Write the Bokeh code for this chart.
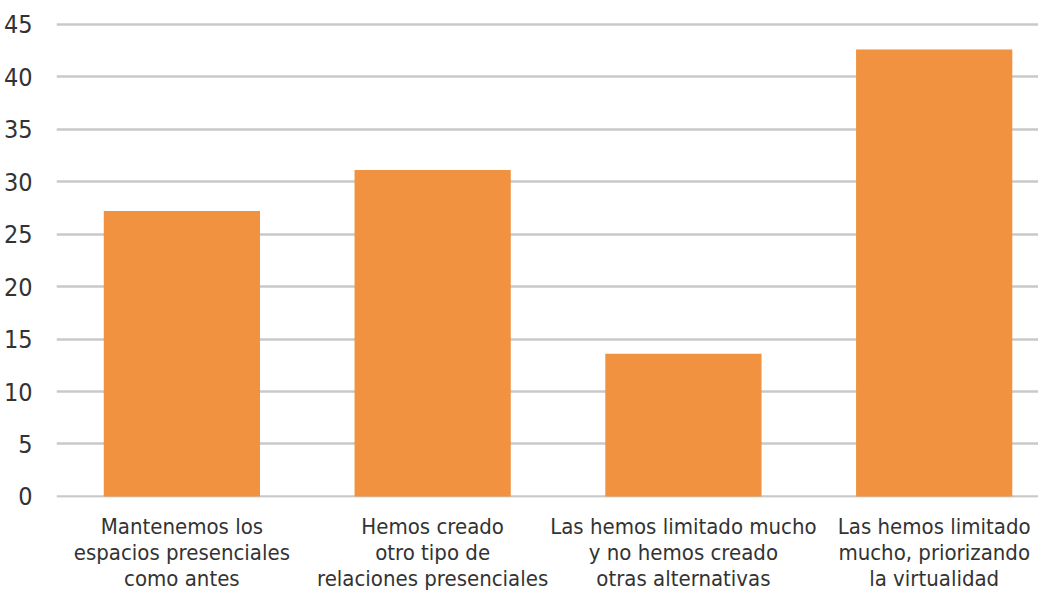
from bokeh.plotting import figure
from bokeh.models import FixedTicker, Range1d
from bokeh.embed import file_html
from bokeh.resources import INLINE

categories = [
    "Mantenemos los\nespacios presenciales\ncomo antes",
    "Hemos creado\notro tipo de\nrelaciones presenciales",
    "Las hemos limitado mucho\ny no hemos creado\notras alternativas",
    "Las hemos limitado\nmucho, priorizando\nla virtualidad",
]
values = [27.2, 31.1, 13.6, 42.6]
y_ticks = [0, 5, 10, 15, 20, 25, 30, 35, 40, 45]

FONT = "DejaVu Sans Condensed"
xs = list(range(len(categories)))

p = figure(width=1038, height=594, output_backend="svg", toolbar_location=None,
           x_range=Range1d(-0.5, 3.416), y_range=Range1d(-0.1, 47.264),
           min_border_left=45, min_border_right=0, min_border_top=0,
           min_border_bottom=92)
p.outline_line_color = None
p.background_fill_color = "white"
p.border_fill_color = "white"

p.vbar(x=xs, top=values, width=0.623, bottom=0, fill_color="#F0923F",
       line_color=None)

p.xgrid.grid_line_color = None
p.ygrid.ticker = FixedTicker(ticks=y_ticks)
p.ygrid.grid_line_color = "#C9C9C9"
p.ygrid.grid_line_width = 2.5
p.ygrid.level = "image"

p.yaxis.ticker = FixedTicker(ticks=y_ticks)
p.yaxis.axis_line_color = None
p.yaxis.major_tick_line_color = None
p.yaxis.minor_tick_line_color = None
p.yaxis.major_label_text_font = FONT
p.yaxis.major_label_text_font_size = "25px"
p.yaxis.major_label_text_color = "#333333"
p.yaxis.major_label_standoff = 18

p.xaxis.ticker = FixedTicker(ticks=xs)
p.xaxis.major_label_overrides = {i: c for i, c in zip(xs, categories)}
p.xaxis.axis_line_color = None
p.xaxis.major_tick_line_color = None
p.xaxis.minor_tick_line_color = None
p.xaxis.major_label_text_font = FONT
p.xaxis.major_label_text_font_size = "22px"
p.xaxis.major_label_text_color = "#333333"
p.xaxis.major_label_standoff = 10
p.xaxis.major_label_text_line_height = 1.05

open("out.html", "w").write(file_html(p, INLINE))
